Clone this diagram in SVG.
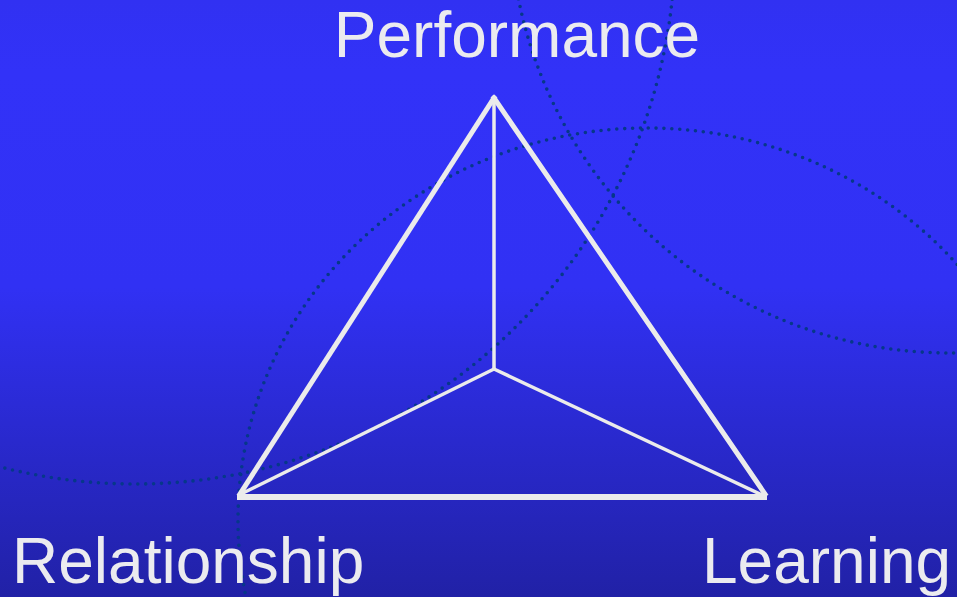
<svg xmlns="http://www.w3.org/2000/svg" width="957" height="597" viewBox="0 0 957 597">
  <defs>
    <linearGradient id="bg" x1="0" y1="0" x2="0" y2="1">
      <stop offset="0" stop-color="#3131f2"/>
      <stop offset="0.12" stop-color="#3232f8"/>
      <stop offset="0.48" stop-color="#3131f4"/>
      <stop offset="1" stop-color="#2121a6"/>
    </linearGradient>
    <style>
      .ring { fill: none; stroke: #06378a; stroke-width: 3.6; stroke-linecap: round; stroke-dasharray: 0 7.9; }
      .edge { fill: none; stroke: #ebebeb; stroke-linecap: square; }
      .outer { stroke-width: 5; }
      .base { stroke-width: 6; stroke-linecap: butt; }
      .inner { stroke-width: 3.5; }
      .label { font-family: "Liberation Sans", Arial, sans-serif; font-size: 64px; fill: #ebebef; }
    </style>
  </defs>

  <!-- backdrop -->
  <rect width="957" height="597" fill="url(#bg)"/>

  <!-- dotted orbit rings -->
  <g id="rings">
    <ellipse class="ring" cx="647" cy="520" rx="409" ry="392"/>
    <circle class="ring" cx="135" cy="-56" r="540"/>
    <circle class="ring" cx="950" cy="-87" r="440"/>
  </g>

  <!-- triangle edges and spokes -->
  <g id="connectors">
    <line class="edge outer" x1="494" y1="98" x2="240" y2="494"/>
    <line class="edge outer" x1="494" y1="98" x2="765" y2="494"/>
    <line class="edge base" x1="237" y1="497" x2="767" y2="497"/>
    <line class="edge inner" x1="494" y1="98" x2="494" y2="369"/>
    <line class="edge inner" x1="494" y1="369" x2="241" y2="494"/>
    <line class="edge inner" x1="494" y1="369" x2="762" y2="495"/>
  </g>

  <g id="node-performance">
    <text class="label" x="517" y="57" text-anchor="middle">Performance</text>
  </g>
  <g id="node-relationship">
    <text class="label" x="12" y="583">Relationship</text>
  </g>
  <g id="node-learning">
    <text class="label" x="702" y="583">Learning</text>
  </g>
</svg>
